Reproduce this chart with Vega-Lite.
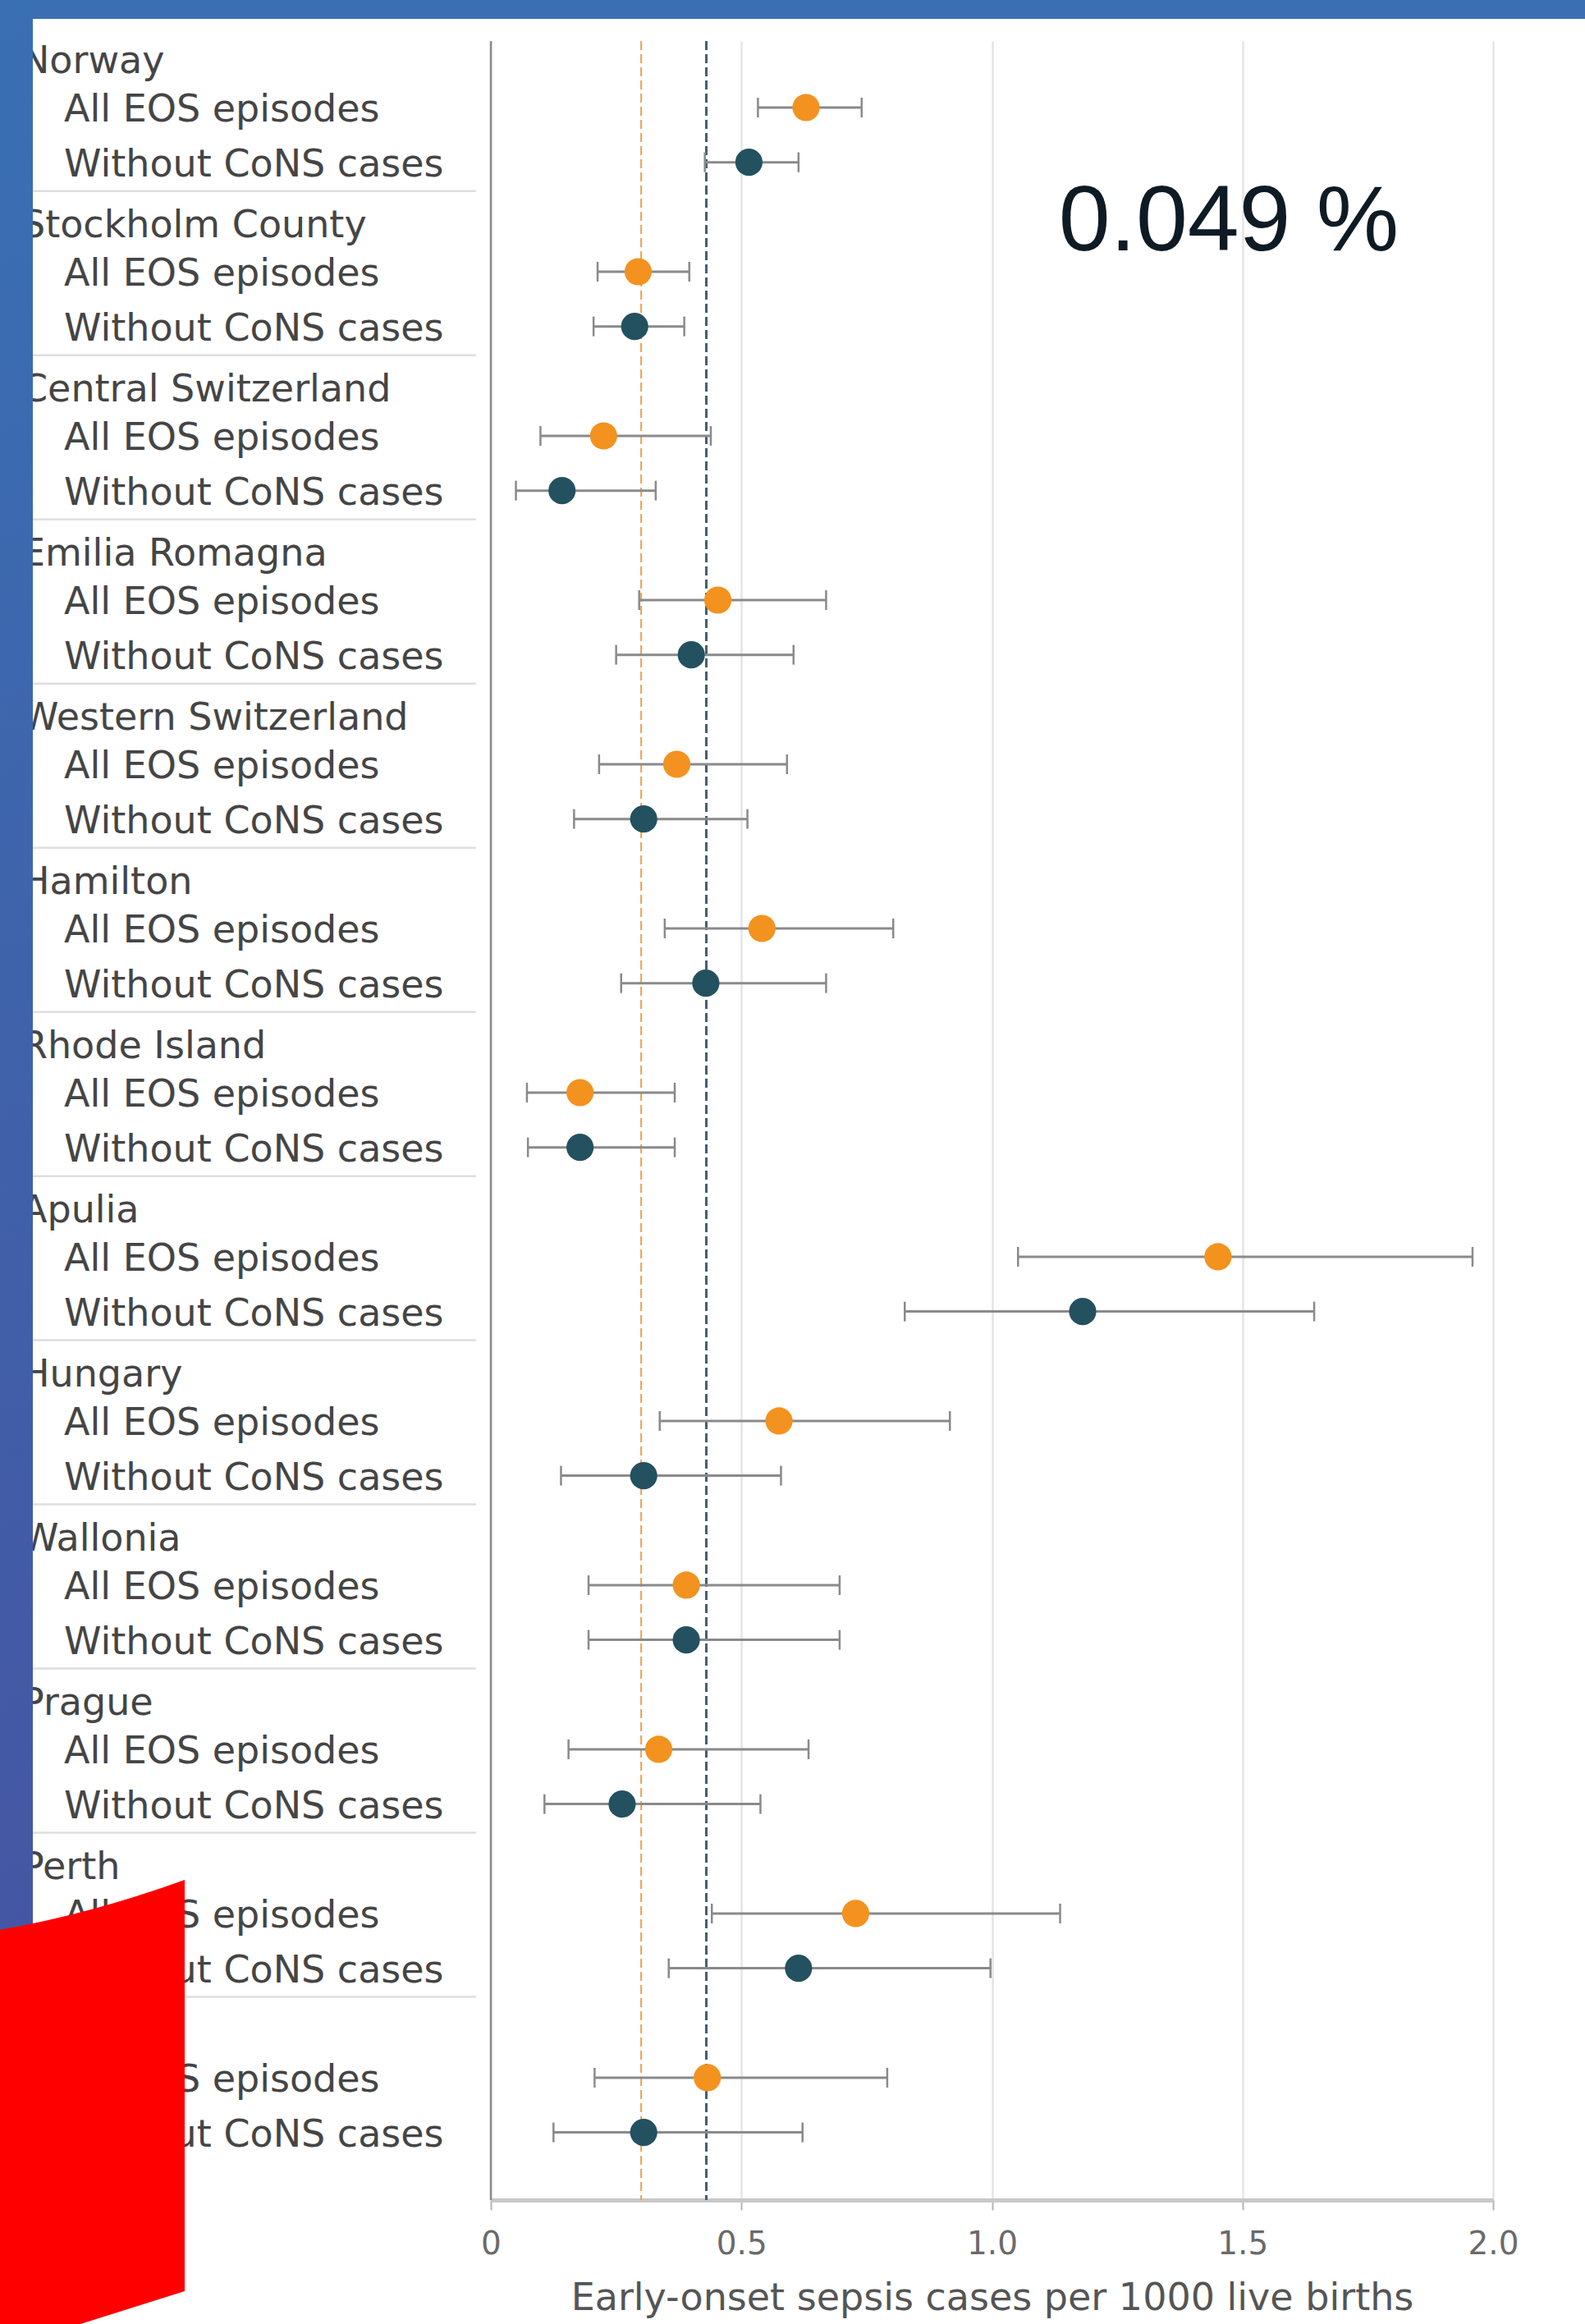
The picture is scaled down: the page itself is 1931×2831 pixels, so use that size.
{
  "$schema": "https://vega.github.io/schema/vega-lite/v6.json",
  "width": 1221,
  "height": 2630,
  "autosize": {"type": "none"},
  "padding": {"left": 598, "top": 50, "right": 112, "bottom": 151},
  "background": "white",
  "config": {
    "view": {"stroke": null},
    "font": "DejaVu Sans",
    "axisX": {
      "grid": true, "gridColor": "#e4e4e4", "gridWidth": 2.5,
      "domainColor": "#c8c8c8", "domainWidth": 5,
      "tickColor": "#b4b4b4", "tickSize": 12, "tickWidth": 2,
      "labelFont": "DejaVu Sans", "labelFontSize": 39, "labelColor": "#6a6a6a", "labelPadding": 22, "labelFlush": false,
      "titleFont": "DejaVu Sans", "titleFontSize": 46, "titleFontWeight": "normal", "titleColor": "#555555", "titlePadding": 24
    }
  },
  "resolve": {"scale": {"y": "independent"}},
  "layer": [
    {
      "data": {"values": [{}]},
      "layer": [
        {"mark": {"type": "rule", "color": "#8c8c8c", "strokeWidth": 2.5},
         "encoding": {"x": {"datum": 0}}},
        {"mark": {"type": "rule", "color": "#f0a044", "strokeWidth": 2, "strokeDash": [11, 5]},
         "encoding": {"x": {"datum": 0.30}}},
        {"mark": {"type": "rule", "color": "#44606f", "strokeWidth": 3, "strokeDash": [11, 5]},
         "encoding": {"x": {"datum": 0.43}}}
      ]
    },
    {
      "data": {"values": [
        {"region": "Norway", "level": "region", "label": "Norway"},
        {"region": "Norway", "level": "series", "label": "All EOS episodes", "est": 0.629, "lo": 0.533, "hi": 0.740},
        {"region": "Norway", "level": "series", "label": "Without CoNS cases", "est": 0.515, "lo": 0.427, "hi": 0.614},
        {"region": "Stockholm County", "level": "region", "label": "Stockholm County"},
        {"region": "Stockholm County", "level": "series", "label": "All EOS episodes", "est": 0.294, "lo": 0.213, "hi": 0.396},
        {"region": "Stockholm County", "level": "series", "label": "Without CoNS cases", "est": 0.287, "lo": 0.205, "hi": 0.386},
        {"region": "Central Switzerland", "level": "region", "label": "Central Switzerland"},
        {"region": "Central Switzerland", "level": "series", "label": "All EOS episodes", "est": 0.225, "lo": 0.099, "hi": 0.439},
        {"region": "Central Switzerland", "level": "series", "label": "Without CoNS cases", "est": 0.142, "lo": 0.050, "hi": 0.329},
        {"region": "Emilia Romagna", "level": "region", "label": "Emilia Romagna"},
        {"region": "Emilia Romagna", "level": "series", "label": "All EOS episodes", "est": 0.453, "lo": 0.296, "hi": 0.669},
        {"region": "Emilia Romagna", "level": "series", "label": "Without CoNS cases", "est": 0.400, "lo": 0.250, "hi": 0.604},
        {"region": "Western Switzerland", "level": "region", "label": "Western Switzerland"},
        {"region": "Western Switzerland", "level": "series", "label": "All EOS episodes", "est": 0.371, "lo": 0.216, "hi": 0.591},
        {"region": "Western Switzerland", "level": "series", "label": "Without CoNS cases", "est": 0.305, "lo": 0.166, "hi": 0.512},
        {"region": "Hamilton", "level": "region", "label": "Hamilton"},
        {"region": "Hamilton", "level": "series", "label": "All EOS episodes", "est": 0.541, "lo": 0.347, "hi": 0.803},
        {"region": "Hamilton", "level": "series", "label": "Without CoNS cases", "est": 0.429, "lo": 0.260, "hi": 0.669},
        {"region": "Rhode Island", "level": "region", "label": "Rhode Island"},
        {"region": "Rhode Island", "level": "series", "label": "All EOS episodes", "est": 0.178, "lo": 0.072, "hi": 0.367},
        {"region": "Rhode Island", "level": "series", "label": "Without CoNS cases", "est": 0.178, "lo": 0.074, "hi": 0.367},
        {"region": "Apulia", "level": "region", "label": "Apulia"},
        {"region": "Apulia", "level": "series", "label": "All EOS episodes", "est": 1.451, "lo": 1.052, "hi": 1.959},
        {"region": "Apulia", "level": "series", "label": "Without CoNS cases", "est": 1.181, "lo": 0.826, "hi": 1.643},
        {"region": "Hungary", "level": "region", "label": "Hungary"},
        {"region": "Hungary", "level": "series", "label": "All EOS episodes", "est": 0.575, "lo": 0.337, "hi": 0.916},
        {"region": "Hungary", "level": "series", "label": "Without CoNS cases", "est": 0.305, "lo": 0.140, "hi": 0.579},
        {"region": "Wallonia", "level": "region", "label": "Wallonia"},
        {"region": "Wallonia", "level": "series", "label": "All EOS episodes", "est": 0.390, "lo": 0.195, "hi": 0.696},
        {"region": "Wallonia", "level": "series", "label": "Without CoNS cases", "est": 0.390, "lo": 0.195, "hi": 0.696},
        {"region": "Prague", "level": "region", "label": "Prague"},
        {"region": "Prague", "level": "series", "label": "All EOS episodes", "est": 0.335, "lo": 0.155, "hi": 0.634},
        {"region": "Prague", "level": "series", "label": "Without CoNS cases", "est": 0.262, "lo": 0.107, "hi": 0.538},
        {"region": "Perth", "level": "region", "label": "Perth"},
        {"region": "Perth", "level": "series", "label": "All EOS episodes", "est": 0.728, "lo": 0.441, "hi": 1.136},
        {"region": "Perth", "level": "series", "label": "Without CoNS cases", "est": 0.614, "lo": 0.355, "hi": 0.997},
        {"region": "Overall", "level": "region", "label": "Overall"},
        {"region": "Overall", "level": "series", "label": "All EOS episodes", "est": 0.432, "lo": 0.207, "hi": 0.791},
        {"region": "Overall", "level": "series", "label": "Without CoNS cases", "est": 0.305, "lo": 0.125, "hi": 0.622}
      ]},
      "transform": [{"calculate": "datum.region + '|' + datum.label", "as": "row"}],
      "encoding": {
        "y": {
          "field": "row", "type": "nominal", "axis": null,
          "scale": {
            "type": "point", "padding": 0.7253, "align": 0.148,
            "domain": [
              "Norway|Norway", "Norway|All EOS episodes", "Norway|Without CoNS cases",
              "Stockholm County|Stockholm County", "Stockholm County|All EOS episodes", "Stockholm County|Without CoNS cases",
              "Central Switzerland|Central Switzerland", "Central Switzerland|All EOS episodes", "Central Switzerland|Without CoNS cases",
              "Emilia Romagna|Emilia Romagna", "Emilia Romagna|All EOS episodes", "Emilia Romagna|Without CoNS cases",
              "Western Switzerland|Western Switzerland", "Western Switzerland|All EOS episodes", "Western Switzerland|Without CoNS cases",
              "Hamilton|Hamilton", "Hamilton|All EOS episodes", "Hamilton|Without CoNS cases",
              "Rhode Island|Rhode Island", "Rhode Island|All EOS episodes", "Rhode Island|Without CoNS cases",
              "Apulia|Apulia", "Apulia|All EOS episodes", "Apulia|Without CoNS cases",
              "Hungary|Hungary", "Hungary|All EOS episodes", "Hungary|Without CoNS cases",
              "Wallonia|Wallonia", "Wallonia|All EOS episodes", "Wallonia|Without CoNS cases",
              "Prague|Prague", "Prague|All EOS episodes", "Prague|Without CoNS cases",
              "Perth|Perth", "Perth|All EOS episodes", "Perth|Without CoNS cases",
              "Overall|Overall", "Overall|All EOS episodes", "Overall|Without CoNS cases"
            ]
          }
        }
      },
      "layer": [
        {
          "transform": [{"filter": "datum.label == 'Without CoNS cases' && datum.region != 'Overall'"}],
          "mark": {"type": "rule", "color": "#dedede", "strokeWidth": 2.5, "yOffset": 35},
          "encoding": {"x": {"datum": -0.914}, "x2": {"datum": -0.0295}}
        },
        {
          "transform": [{"filter": "datum.level == 'series'"}],
          "mark": {"type": "rule", "color": "#8a8a8a", "strokeWidth": 3},
          "encoding": {"x": {"field": "lo", "type": "quantitative"}, "x2": {"field": "hi"}}
        },
        {
          "transform": [{"filter": "datum.level == 'series'"}],
          "mark": {"type": "tick", "color": "#8a8a8a", "size": 24, "thickness": 2.5, "opacity": 1},
          "encoding": {"x": {"field": "lo", "type": "quantitative"}}
        },
        {
          "transform": [{"filter": "datum.level == 'series'"}],
          "mark": {"type": "tick", "color": "#8a8a8a", "size": 24, "thickness": 2.5, "opacity": 1},
          "encoding": {"x": {"field": "hi", "type": "quantitative"}}
        },
        {
          "transform": [{"filter": "datum.level == 'series'"}],
          "mark": {"type": "point", "filled": true, "size": 1100, "opacity": 1, "strokeWidth": 0},
          "encoding": {
            "x": {
              "field": "est", "type": "quantitative",
              "scale": {"domain": [0, 2], "nice": false, "zero": false},
              "axis": {
                "values": [0, 0.5, 1, 1.5, 2],
                "labelExpr": "datum.value == 0 ? '0' : format(datum.value, '.1f')",
                "title": "Early-onset sepsis cases per 1000 live births"
              }
            },
            "color": {
              "field": "label", "type": "nominal", "legend": null,
              "scale": {"domain": ["All EOS episodes", "Without CoNS cases"], "range": ["#f3921f", "#24515f"]}
            }
          }
        },
        {
          "transform": [{"filter": "datum.level == 'region'"}],
          "mark": {"type": "text", "align": "left", "baseline": "middle", "fontSize": 46, "color": "#454545", "font": "DejaVu Sans", "yOffset": 11},
          "encoding": {"x": {"datum": -0.937}, "text": {"field": "label"}}
        },
        {
          "transform": [{"filter": "datum.level == 'series'"}],
          "mark": {"type": "text", "align": "left", "baseline": "middle", "fontSize": 46, "color": "#454545", "font": "DejaVu Sans", "yOffset": 3},
          "encoding": {"x": {"datum": -0.8518}, "text": {"field": "label"}}
        }
      ]
    },
    {
      "data": {"values": [{}]},
      "layer": [
        {
          "mark": {"type": "rect", "color": "#3a70b3"},
          "encoding": {
            "x": {"datum": -1.0}, "x2": {"datum": 2.2},
            "y": {"datum": -60, "type": "quantitative", "axis": null, "scale": {"domain": [0, 2630], "reverse": true, "nice": false, "zero": false}},
            "y2": {"datum": -27}
          }
        },
        {
          "mark": {"type": "rect", "color": {"gradient": "linear", "x1": 0, "y1": 0, "x2": 0, "y2": 1, "stops": [{"offset": 0, "color": "#3970b3"}, {"offset": 1, "color": "#4751a0"}]}},
          "encoding": {
            "x": {"datum": -1.0}, "x2": {"datum": -0.914},
            "y": {"datum": -60, "type": "quantitative", "axis": null}, "y2": {"datum": 2800}
          }
        },
        {
          "mark": {"type": "point", "shape": "M -0.4224 -0.7793 Q -0.0172 -0.8414 0.4224 -1 L 0.4224 0.7276 L -0.0155 0.8655 L -0.4224 0.9931 Z", "size": 336400, "filled": true, "color": "#fe0000", "opacity": 1, "strokeWidth": 0},
          "encoding": {
            "x": {"datum": -0.81163},
            "y": {"datum": 2530, "type": "quantitative", "axis": null}
          }
        },
        {
          "data": {"values": [{"t": "0.049 %"}]},
          "mark": {"type": "text", "font": "Liberation Sans", "fontSize": 113, "color": "#0e1b24", "align": "center", "baseline": "alphabetic"},
          "encoding": {
            "x": {"datum": 1.4726},
            "y": {"datum": 255, "type": "quantitative", "axis": null},
            "text": {"field": "t"}
          }
        }
      ]
    }
  ]
}
